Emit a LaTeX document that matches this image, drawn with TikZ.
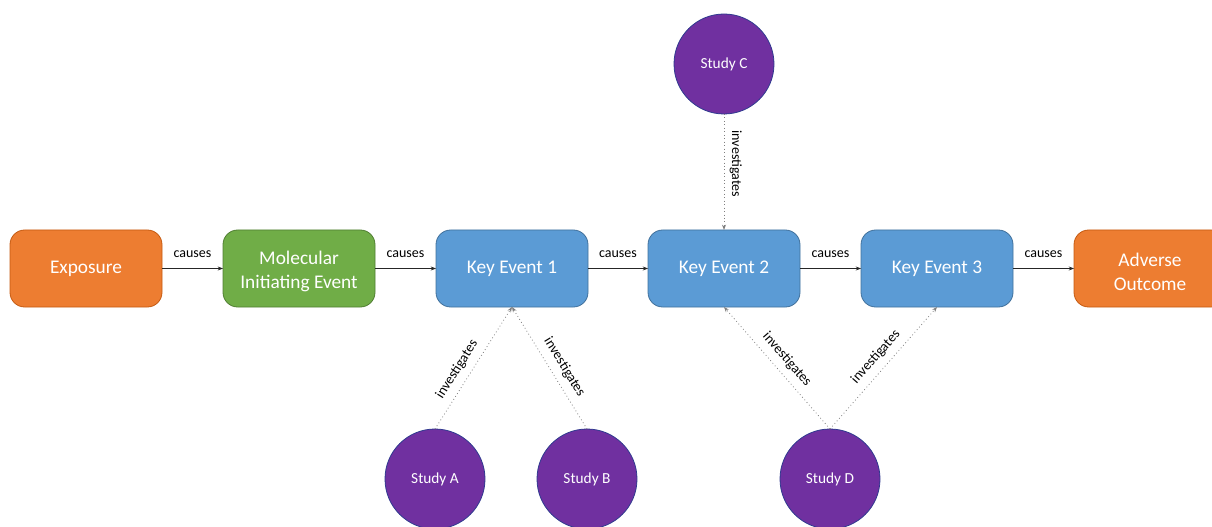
\documentclass[tikz,border=0pt]{standalone}
\usepackage{fontspec}
\setmainfont{Carlito}
\usetikzlibrary{arrows.meta}
\definecolor{orangeF}{HTML}{ED7D31}
\definecolor{orangeD}{HTML}{C55A11}
\definecolor{greenF}{HTML}{70AD47}
\definecolor{greenD}{HTML}{507E32}
\definecolor{blueF}{HTML}{5B9BD5}
\definecolor{blueD}{HTML}{41719C}
\definecolor{purpleF}{HTML}{7030A0}
\definecolor{purpleD}{HTML}{2F3A8F}
\definecolor{dotgray}{HTML}{7F7F7F}
\tikzset{
  evbox/.style={rectangle, rounded corners=11pt, minimum width=114pt, minimum height=57.75pt,
    inner sep=0pt, outer sep=0pt, text=white, align=center, line width=0.6pt,
    font=\fontsize{14.5}{18}\selectfont},
  orangebox/.style={evbox, fill=orangeF, draw=orangeD},
  greenbox/.style={evbox, fill=greenF, draw=greenD},
  bluebox/.style={evbox, fill=blueF, draw=blueD},
  studynode/.style={circle, minimum size=75pt, inner sep=0pt, outer sep=0pt,
    fill=purpleF, draw=purpleD, line width=0.6pt, text=white,
    font=\fontsize{11.5}{13}\selectfont},
  causearrow/.style={draw=black!85, line width=0.5pt, -{Stealth[length=4pt,width=3pt]}},
  invarrow/.style={draw=dotgray, line width=0.6pt, dotted, -{Stealth[length=4pt,width=3pt]}},
  edgelabel/.style={font=\fontsize{10.5}{12}\selectfont, text=black, inner sep=1pt},
}
\begin{document}
\begin{tikzpicture}[x=0.75pt, y=-0.75pt]
\useasboundingbox (0,0) rectangle (1212,527);
\begin{scope}
\clip (0,0) rectangle (1212,527);
\node[orangebox] (exp) at (86,268.5) {\raisebox{-2pt}{Exposure}};
\node[greenbox] (mie) at (299,268.5) {\rule{0pt}{15pt}Molecular\\Initiating Event};
\node[bluebox] (ke1) at (512,268.5) {\raisebox{-2pt}{Key Event 1}};
\node[bluebox] (ke2) at (724,268.5) {\raisebox{-2pt}{Key Event 2}};
\node[bluebox] (ke3) at (937,268.5) {\raisebox{-2pt}{Key Event 3}};
\node[orangebox] (ao) at (1150,268.5) {\rule{0pt}{15pt}Adverse\\Outcome};

\node[studynode] (sc) at (724,64) {Study C};
\node[studynode] (sa) at (435,479) {Study A};
\node[studynode] (sb) at (587,479) {Study B};
\node[studynode] (sd) at (830,479) {Study D};

\draw[causearrow] (exp.east) -- node[edgelabel, above=7pt] {causes} (mie.west);
\draw[causearrow] (mie.east) -- node[edgelabel, above=7pt] {causes} (ke1.west);
\draw[causearrow] (ke1.east) -- node[edgelabel, above=7pt] {causes} (ke2.west);
\draw[causearrow] (ke2.east) -- node[edgelabel, above=7pt] {causes} (ke3.west);
\draw[causearrow] (ke3.east) -- node[edgelabel, above=7pt] {causes} (ao.west);

\draw[invarrow] (sc.south) -- node[edgelabel, pos=0.43, anchor=south, rotate=-90, yshift=3pt] {investigates} (ke2.north);
\draw[invarrow] (sa.north) -- node[edgelabel, sloped, above=4pt, pos=0.43] {investigates} (ke1.south);
\draw[invarrow] (sb.north) -- node[edgelabel, sloped, above=4pt, pos=0.45] {investigates} (ke1.south);
\draw[invarrow] (sd.north) -- node[edgelabel, sloped, above=4pt, pos=0.5] {investigates} (ke2.south);
\draw[invarrow] (sd.north) -- node[edgelabel, sloped, above=4pt, pos=0.52] {investigates} (ke3.south);
\end{scope}
\end{tikzpicture}
\end{document}
